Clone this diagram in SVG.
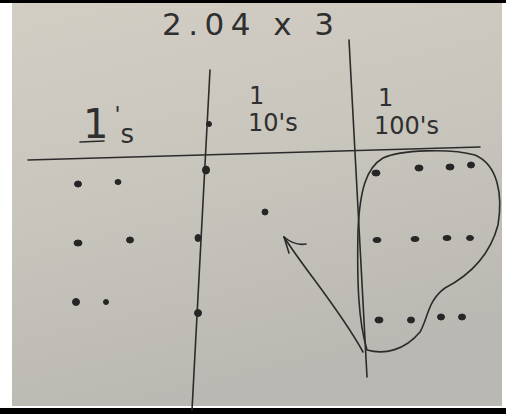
<svg xmlns="http://www.w3.org/2000/svg" width="506" height="414" viewBox="0 0 506 414">
<defs>
<linearGradient id="paper" x1="0" y1="0" x2="0.3" y2="1">
<stop offset="0" stop-color="#d3cec4"/>
<stop offset="0.5" stop-color="#c8c5bd"/>
<stop offset="1" stop-color="#bab8b2"/>
</linearGradient>
<style>
.pen{fill:none;stroke:#2b2b2b;stroke-width:1.6;stroke-linecap:round;stroke-linejoin:round}
.dot{fill:#262626;stroke:#262626;stroke-width:1}
.hand{font-family:"DejaVu Sans","Liberation Sans",sans-serif;fill:#2f2f2f}
</style>
</defs>
<rect width="506" height="414" fill="#ffffff"/>
<rect x="12" y="3" width="490" height="403" fill="url(#paper)"/>
<rect width="506" height="3" fill="#000"/>
<rect y="408" width="506" height="6" fill="#000"/>

<g id="title">
<text class="hand" x="162" y="35" font-size="31" textLength="172" lengthAdjust="spacing">2.04 x 3</text>
</g>

<g id="grid">
<path class="pen" d="M28 160 L480 147"/>
<path class="pen" d="M210 70 L192 410"/>
<path class="pen" d="M349 40 L367 377"/>
<ellipse class="dot" cx="209" cy="124" rx="2.5" ry="2.5"/>
</g>

<g id="label-ones">
<text class="hand" x="83" y="138" font-size="40">1<tspan font-size="22" dx="6" dy="-16">'</tspan><tspan font-size="26" dx="0" dy="21">s</tspan></text>
<path class="pen" d="M80 142 L104 141"/>
</g>
<g id="label-tenths">
<text class="hand" x="249" y="104" font-size="24">1</text>
<text class="hand" x="248" y="131" font-size="24">10's</text>
</g>
<g id="label-hundredths">
<text class="hand" x="378" y="106" font-size="24">1</text>
<text class="hand" x="374" y="134" font-size="24">100's</text>
</g>

<g id="dots-ones">
<ellipse class="dot" cx="78" cy="184" rx="3.5" ry="3"/>
<ellipse class="dot" cx="118" cy="182" rx="3" ry="2.5"/>
<ellipse class="dot" cx="78" cy="243" rx="4" ry="3"/>
<ellipse class="dot" cx="130" cy="240" rx="3.5" ry="3"/>
<ellipse class="dot" cx="76" cy="302" rx="3.5" ry="3.5"/>
<ellipse class="dot" cx="106" cy="302" rx="2.5" ry="2.5"/>
<ellipse class="dot" cx="206" cy="170" rx="3.5" ry="4"/>
<ellipse class="dot" cx="198" cy="238" rx="3" ry="3.5"/>
<ellipse class="dot" cx="198" cy="313" rx="3.5" ry="3.5"/>
</g>
<g id="dots-tenths">
<ellipse class="dot" cx="265" cy="212" rx="3" ry="3"/>
</g>
<g id="dots-hundredths">
<ellipse class="dot" cx="376" cy="173" rx="4" ry="3"/>
<ellipse class="dot" cx="419" cy="168" rx="4" ry="3"/>
<ellipse class="dot" cx="450" cy="167" rx="4" ry="3"/>
<ellipse class="dot" cx="471" cy="165" rx="3.5" ry="3"/>
<ellipse class="dot" cx="377" cy="240" rx="4" ry="2.5"/>
<ellipse class="dot" cx="415" cy="239" rx="4" ry="2.5"/>
<ellipse class="dot" cx="447" cy="238" rx="4" ry="2.5"/>
<ellipse class="dot" cx="470" cy="238" rx="3.5" ry="2.5"/>
<ellipse class="dot" cx="379" cy="320" rx="4" ry="3"/>
<ellipse class="dot" cx="411" cy="320" rx="3.5" ry="3"/>
<ellipse class="dot" cx="441" cy="317" rx="3.5" ry="3"/>
<ellipse class="dot" cx="462" cy="317" rx="3.5" ry="3"/>
</g>

<g id="connectors">
<path class="pen" d="M367 350 C 385 355, 405 350, 420 332 C 428 318, 428 300, 445 288 C 470 275, 490 255, 498 225 C 503 195, 498 165, 475 155 C 450 148, 400 150, 383 158 C 366 168, 360 190, 358 230 C 357 280, 358 320, 367 350 Z"/>
<path class="pen" d="M363 352 C 340 310, 305 270, 284 237"/>
<path class="pen" d="M284 237 L289 253"/>
<path class="pen" d="M284 237 Q 295 246 306 244"/>
</g>
</svg>
